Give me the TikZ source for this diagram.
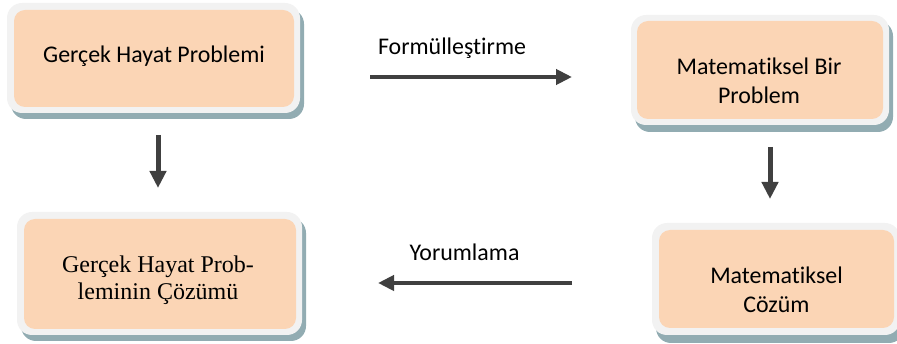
\documentclass[tikz,border=0pt]{standalone}
\usepackage{fontspec}
\newfontfamily\calfont[Ligatures={NoCommon}]{Carlito}
\newfontfamily\tnrfont{Liberation Serif}
\usetikzlibrary{arrows.meta}
\definecolor{peach}{HTML}{FBD5B5}
\definecolor{framegray}{HTML}{F2F2F2}
\definecolor{shadowc}{HTML}{92ACB2}
\definecolor{arrowc}{HTML}{404040}
\begin{document}
\begin{tikzpicture}[x=1pt,y=-1pt,
  shadowbox/.style={fill=shadowc,rounded corners=15pt},
  framebox/.style={fill=framegray,rounded corners=15pt},
  peachbox/.style={fill=peach,rounded corners=11pt,inner sep=0pt},
  caltext/.style={font=\calfont\fontsize{23.9}{29.5}\selectfont,align=center,inner sep=0pt,anchor=base},
  tnrtext/.style={font=\tnrfont\fontsize{24}{27}\selectfont,align=center,inner sep=0pt,anchor=base},
  bigarrow/.style={draw=arrowc,line width=4.7pt,-{Triangle[length=16pt,width=15pt]}},
  downarrow/.style={draw=arrowc,line width=5pt,-{Triangle[length=17pt,width=16pt]}}]
\useasboundingbox (0,0) rectangle (897,344);
% box 1
\fill[shadowbox] (11,9) rectangle (304,119);
\fill[framebox] (7,3) rectangle (300,113);
\node[peachbox,minimum width=280pt,minimum height=97pt] (b1) at (154,58.5) {};
\node[caltext] (t1) at (154,63) {Gerçek Hayat Problemi};
% box 2
\fill[shadowbox] (635,21) rectangle (893,132);
\fill[framebox] (631,15) rectangle (889,125);
\node[peachbox,minimum width=246pt,minimum height=98pt] (b2) at (760,70) {};
\node[caltext] (t2) at (759,104) {Matematiksel Bir\\Problem};
% box 3
\fill[shadowbox] (21,218) rectangle (306,341);
\fill[framebox] (17,212) rectangle (302,335);
\node[peachbox,minimum width=272pt,minimum height=110pt] (b3) at (160,274) {};
\node[tnrtext] (t3) at (158,300) {Gerçek Hayat Prob-\\leminin Çözümü};
% box 4
\fill[shadowbox] (656,230) rectangle (904,343);
\fill[framebox] (652,223) rectangle (900,335);
\node[peachbox,minimum width=235pt,minimum height=98pt] (b4) at (776.5,279) {};
\node[caltext] (t4) at (776.5,313) {Matematiksel\\Cözüm};
% arrows
\coordinate (f1) at (370,77);
\coordinate (f2) at (572,77);
\draw[bigarrow] (f1) -- (f2);
\node[caltext] (lf) at (452,55) {Formülleştirme};
\coordinate (y1) at (572,283);
\coordinate (y2) at (378,283);
\draw[bigarrow] (y1) -- (y2);
\node[caltext] (ly) at (464.5,261) {Yorumlama};
\coordinate (d1a) at (158,135);
\coordinate (d1b) at (158,188);
\draw[downarrow] (d1a) -- (d1b);
\coordinate (d2a) at (770,147);
\coordinate (d2b) at (770,199);
\draw[downarrow] (d2a) -- (d2b);
\end{tikzpicture}
\end{document}
